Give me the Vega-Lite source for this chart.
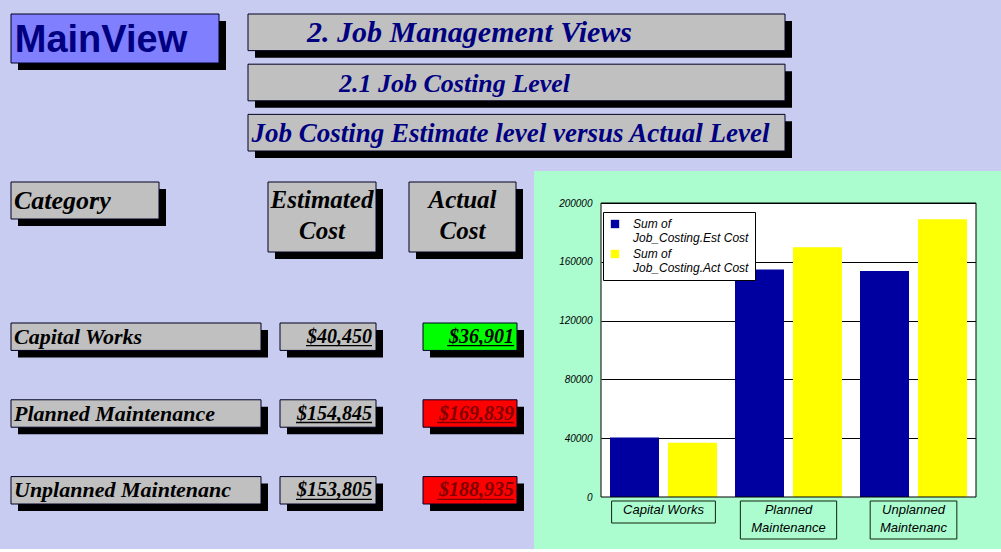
{
  "$schema": "https://vega.github.io/schema/vega-lite/v6.json",
  "background": "#c7ccf0",
  "padding": {"left": 10, "top": 13, "right": 0, "bottom": 0},
  "config": {"view": {"stroke": null}},
  "datasets": {
    "brand": [{"text": "MainView"}],
    "titles": [
      {"level": "t1", "text": "2. Job Management Views"},
      {"level": "t2", "text": "2.1 Job Costing Level"},
      {"level": "t3", "text": "Job Costing Estimate level  versus Actual Level"}
    ],
    "headers": [
      {"column": "Category", "text": "Category"},
      {"column": "Estimated", "text": "Estimated\nCost"},
      {"column": "Actual", "text": "Actual\nCost"}
    ],
    "costs": [
      {"category": "Capital Works", "estimated": 40450, "actual": 36901, "axisLabel": "Capital Works"},
      {"category": "Planned Maintenance", "estimated": 154845, "actual": 169839, "axisLabel": "Planned\nMaintenance"},
      {"category": "Unplanned Maintenanc", "estimated": 153805, "actual": 188935, "axisLabel": "Unplanned\nMaintenanc"}
    ],
    "bars": [
      {"category": "Capital Works", "series": "Sum of Job_Costing.Est Cost", "cost": 40450},
      {"category": "Capital Works", "series": "Sum of Job_Costing.Act Cost", "cost": 36901},
      {"category": "Planned Maintenance", "series": "Sum of Job_Costing.Est Cost", "cost": 154845},
      {"category": "Planned Maintenance", "series": "Sum of Job_Costing.Act Cost", "cost": 169839},
      {"category": "Unplanned Maintenanc", "series": "Sum of Job_Costing.Est Cost", "cost": 153805},
      {"category": "Unplanned Maintenanc", "series": "Sum of Job_Costing.Act Cost", "cost": 188935}
    ],
    "panel": [{"panel": "mint"}]
  },
  "resolve": {"legend": {"color": "independent"}},
  "spacing": 13,
  "vconcat": [
    {
      "spacing": 21,
      "hconcat": [
        {
          "width": 208, "height": 49,
          "data": {"name": "brand"},
          "encoding": {
            "x": {"field": "text", "type": "nominal", "axis": null, "scale": {"padding": 0}},
            "y": {"field": "text", "type": "nominal", "axis": null, "scale": {"padding": 0}}
          },
          "layer": [
            {"mark": {"type": "rect", "fill": "black", "xOffset": 7, "yOffset": 7}},
            {"mark": {"type": "rect", "fill": "#8080ff", "stroke": "#000022", "strokeWidth": 1}},
            {"mark": {"type": "text", "font": "Liberation Sans", "fontWeight": "bold", "fontSize": 38, "fill": "#000080", "dx": -14, "dy": 2},
             "encoding": {"text": {"field": "text", "type": "nominal"}}}
          ]
        },
        {
          "width": 537, "height": 137,
          "data": {"name": "titles"},
          "encoding": {
            "x": {"datum": "cell", "type": "nominal", "axis": null, "scale": {"padding": 0}},
            "y": {"field": "level", "type": "nominal", "sort": null, "axis": null, "scale": {"paddingInner": 0.27, "paddingOuter": 0}}
          },
          "layer": [
            {"mark": {"type": "rect", "fill": "black", "xOffset": 7, "yOffset": 7}},
            {"mark": {"type": "rect", "fill": "#c0c0c0", "stroke": "#000022", "strokeWidth": 1}},
            {"transform": [{"filter": "datum.level == 't1'"}],
             "mark": {"type": "text", "font": "Liberation Serif", "fontWeight": "bold", "fontStyle": "italic", "fontSize": 30, "fill": "#000080", "dx": -47, "dy": 1},
             "encoding": {"text": {"field": "text", "type": "nominal"}}},
            {"transform": [{"filter": "datum.level == 't2'"}],
             "mark": {"type": "text", "font": "Liberation Serif", "fontWeight": "bold", "fontStyle": "italic", "fontSize": 26, "fill": "#000080", "dx": -62, "dy": 1},
             "encoding": {"text": {"field": "text", "type": "nominal"}}},
            {"transform": [{"filter": "datum.level == 't3'"}],
             "mark": {"type": "text", "font": "Liberation Serif", "fontWeight": "bold", "fontStyle": "italic", "fontSize": 27, "fill": "#000080", "dx": -6, "dy": 1},
             "encoding": {"text": {"field": "text", "type": "nominal"}}}
          ]
        }
      ]
    },
    {
      "spacing": 10,
      "resolve": {"legend": {"color": "independent"}},
      "hconcat": [
        {
          "spacing": 63,
          "vconcat": [
            {
              "spacing": 101,
              "hconcat": [
                {
                  "width": 148, "height": 37,
                  "data": {"name": "headers"},
                  "transform": [{"filter": "datum.column == 'Category'"}],
                  "encoding": {
                    "x": {"field": "column", "type": "nominal", "axis": null, "scale": {"padding": 0}},
                    "y": {"field": "column", "type": "nominal", "axis": null, "scale": {"padding": 0}}
                  },
                  "layer": [
                    {"mark": {"type": "rect", "fill": "black", "xOffset": 7, "yOffset": 7}},
                    {"mark": {"type": "rect", "fill": "#c0c0c0", "stroke": "#000022", "strokeWidth": 1}},
                    {"mark": {"type": "text", "font": "Liberation Serif", "fontWeight": "bold", "fontStyle": "italic", "fontSize": 26, "fill": "black", "align": "left", "dx": -71, "dy": 0},
                     "encoding": {"text": {"field": "text", "type": "nominal"}}}
                  ]
                },
                {
                  "spacing": 25,
                  "hconcat": [
                    {
                      "width": 108, "height": 70,
                      "data": {"name": "headers"},
                      "transform": [{"filter": "datum.column == 'Estimated'"}],
                      "encoding": {
                        "x": {"field": "column", "type": "nominal", "axis": null, "scale": {"padding": 0}},
                        "y": {"field": "column", "type": "nominal", "axis": null, "scale": {"padding": 0}}
                      },
                      "layer": [
                        {"mark": {"type": "rect", "fill": "black", "xOffset": 7, "yOffset": 7}},
                        {"mark": {"type": "rect", "fill": "#c0c0c0", "stroke": "#000022", "strokeWidth": 1}},
                        {"mark": {"type": "text", "font": "Liberation Serif", "fontWeight": "bold", "fontStyle": "italic", "fontSize": 25, "fill": "black", "lineBreak": "\n", "lineHeight": 31, "dy": -17},
                         "encoding": {"text": {"field": "text", "type": "nominal"}}}
                      ]
                    },
                    {
                      "width": 107, "height": 70,
                      "data": {"name": "headers"},
                      "transform": [{"filter": "datum.column == 'Actual'"}],
                      "encoding": {
                        "x": {"field": "column", "type": "nominal", "axis": null, "scale": {"padding": 0}},
                        "y": {"field": "column", "type": "nominal", "axis": null, "scale": {"padding": 0}}
                      },
                      "layer": [
                        {"mark": {"type": "rect", "fill": "black", "xOffset": 7, "yOffset": 7}},
                        {"mark": {"type": "rect", "fill": "#c0c0c0", "stroke": "#000022", "strokeWidth": 1}},
                        {"mark": {"type": "text", "font": "Liberation Serif", "fontWeight": "bold", "fontStyle": "italic", "fontSize": 25, "fill": "black", "lineBreak": "\n", "lineHeight": 31, "dy": -17},
                         "encoding": {"text": {"field": "text", "type": "nominal"}}}
                      ]
                    }
                  ]
                }
              ]
            },
            {
              "spacing": 39,
              "hconcat": [
                {
                  "spacing": 11,
                  "hconcat": [
                    {
                      "width": 250, "height": 181,
                      "data": {"name": "costs"},
                      "encoding": {
                        "x": {"datum": "cell", "type": "nominal", "axis": null, "scale": {"padding": 0}},
                        "y": {"field": "category", "type": "nominal", "sort": null, "axis": null, "scale": {"paddingInner": 0.643, "paddingOuter": 0}}
                      },
                      "layer": [
                        {"mark": {"type": "rect", "fill": "black", "xOffset": 7, "yOffset": 7}},
                        {"mark": {"type": "rect", "fill": "#c0c0c0", "stroke": "#000022", "strokeWidth": 1}},
                        {"mark": {"type": "text", "font": "Liberation Serif", "fontWeight": "bold", "fontStyle": "italic", "fontSize": 22, "fill": "black", "align": "left", "dx": -122},
                         "encoding": {"text": {"field": "category", "type": "nominal"}}}
                      ]
                    },
                    {
                      "width": 96, "height": 181,
                      "data": {"name": "costs"},
                      "encoding": {
                        "x": {"datum": "cell", "type": "nominal", "axis": null, "scale": {"padding": 0}},
                        "y": {"field": "category", "type": "nominal", "sort": null, "axis": null, "scale": {"paddingInner": 0.643, "paddingOuter": 0}}
                      },
                      "layer": [
                        {"mark": {"type": "rect", "fill": "black", "xOffset": 7, "yOffset": 7}},
                        {"mark": {"type": "rect", "fill": "#c0c0c0", "stroke": "#000022", "strokeWidth": 1}},
                        {"mark": {"type": "text", "font": "Liberation Serif", "fontWeight": "bold", "fontStyle": "italic", "fontSize": 20, "fill": "black", "align": "right", "dx": 44},
                         "encoding": {"text": {"field": "estimated", "type": "quantitative", "format": "$,.0f"}}},
                        {"transform": [{"filter": "datum.estimated < 100000"}],
                         "mark": {"type": "rule", "stroke": "black", "strokeWidth": 1.3, "xOffset": -70, "x2Offset": -4, "yOffset": 9},
                         "encoding": {
                           "x": {"datum": "cell", "type": "nominal", "bandPosition": 1},
                           "x2": {"datum": "cell", "bandPosition": 1},
                           "y": {"field": "category", "type": "nominal", "sort": null, "bandPosition": 0.5}
                         }},
                        {"transform": [{"filter": "datum.estimated >= 100000"}],
                         "mark": {"type": "rule", "stroke": "black", "strokeWidth": 1.3, "xOffset": -80, "x2Offset": -4, "yOffset": 9},
                         "encoding": {
                           "x": {"datum": "cell", "type": "nominal", "bandPosition": 1},
                           "x2": {"datum": "cell", "bandPosition": 1},
                           "y": {"field": "category", "type": "nominal", "sort": null, "bandPosition": 0.5}
                         }}
                      ]
                    }
                  ]
                },
                {
                  "width": 94, "height": 181,
                  "data": {"name": "costs"},
                  "encoding": {
                    "x": {"datum": "cell", "type": "nominal", "axis": null, "scale": {"padding": 0}},
                    "y": {"field": "category", "type": "nominal", "sort": null, "axis": null, "scale": {"paddingInner": 0.643, "paddingOuter": 0}}
                  },
                  "layer": [
                    {"mark": {"type": "rect", "fill": "black", "xOffset": 7, "yOffset": 7}},
                    {"mark": {"type": "rect", "stroke": "#000022", "strokeWidth": 1},
                     "encoding": {"fill": {"condition": {"test": "datum.actual > datum.estimated", "value": "#ff0000"}, "value": "#00ff00"}}},
                    {"mark": {"type": "text", "font": "Liberation Serif", "fontWeight": "bold", "fontStyle": "italic", "fontSize": 20, "align": "right", "dx": 44},
                     "encoding": {
                       "text": {"field": "actual", "type": "quantitative", "format": "$,.0f"},
                       "fill": {"condition": {"test": "datum.actual > datum.estimated", "value": "#800000"}, "value": "#000000"}
                     }},
                    {"transform": [{"filter": "datum.actual < 100000"}],
                     "mark": {"type": "rule", "strokeWidth": 1.3, "xOffset": -70, "x2Offset": -3, "yOffset": 9},
                     "encoding": {
                       "x": {"datum": "cell", "type": "nominal", "bandPosition": 1},
                       "x2": {"datum": "cell", "bandPosition": 1},
                       "y": {"field": "category", "type": "nominal", "sort": null, "bandPosition": 0.5},
                       "stroke": {"condition": {"test": "datum.actual > datum.estimated", "value": "#800000"}, "value": "#000000"}
                     }},
                    {"transform": [{"filter": "datum.actual >= 100000"}],
                     "mark": {"type": "rule", "strokeWidth": 1.3, "xOffset": -80, "x2Offset": -3, "yOffset": 9},
                     "encoding": {
                       "x": {"datum": "cell", "type": "nominal", "bandPosition": 1},
                       "x2": {"datum": "cell", "bandPosition": 1},
                       "y": {"field": "category", "type": "nominal", "sort": null, "bandPosition": 0.5},
                       "stroke": {"condition": {"test": "datum.actual > datum.estimated", "value": "#800000"}, "value": "#000000"}
                     }}
                  ]
                }
              ]
            }
          ]
        },
        {
          "width": 375, "height": 315,
          "view": {"fill": "white", "stroke": null},
          "resolve": {"axis": {"y": "independent"}},
          "layer": [
            {"data": {"name": "panel"},
             "mark": {"type": "rect", "fill": "#abfdd0", "xOffset": -76, "x2Offset": 35, "y2Offset": -32},
             "encoding": {
               "x": {"datum": "Capital Works", "type": "nominal", "bandPosition": 0, "axis": null},
               "x2": {"datum": "Unplanned Maintenanc", "bandPosition": 1},
               "y": {"datum": 200000, "type": "quantitative", "axis": null},
               "y2": {"datum": 200000}
             }},
            {"data": {"name": "panel"},
             "mark": {"type": "rect", "fill": "#abfdd0", "xOffset": -76, "x2Offset": 35, "y2Offset": 52},
             "encoding": {
               "x": {"datum": "Capital Works", "type": "nominal", "bandPosition": 0, "axis": null},
               "x2": {"datum": "Unplanned Maintenanc", "bandPosition": 1},
               "y": {"datum": 0, "type": "quantitative", "axis": null},
               "y2": {"datum": 0}
             }},
            {"data": {"name": "panel"},
             "mark": {"type": "rect", "fill": "#abfdd0", "xOffset": -76, "x2Offset": -9, "yOffset": -32, "y2Offset": 52},
             "encoding": {
               "x": {"datum": "Capital Works", "type": "nominal", "bandPosition": 0, "axis": null},
               "x2": {"datum": "Capital Works", "bandPosition": 0},
               "y": {"datum": 200000, "type": "quantitative", "axis": null},
               "y2": {"datum": 0}
             }},
            {"data": {"name": "panel"},
             "mark": {"type": "rect", "fill": "#abfdd0", "xOffset": 9, "x2Offset": 35, "yOffset": -32, "y2Offset": 52},
             "encoding": {
               "x": {"datum": "Unplanned Maintenanc", "type": "nominal", "bandPosition": 1, "axis": null},
               "x2": {"datum": "Unplanned Maintenanc", "bandPosition": 1},
               "y": {"datum": 200000, "type": "quantitative", "axis": null},
               "y2": {"datum": 0}
             }},
            {
              "data": {"name": "bars"},
              "mark": {"type": "bar"},
              "encoding": {
                "x": {"field": "category", "type": "nominal", "axis": null,
                      "scale": {"domain": ["Capital Works", "Planned Maintenance", "Unplanned Maintenanc"], "paddingInner": 0.144, "paddingOuter": 0.072}},
                "xOffset": {"field": "series", "type": "nominal", "sort": null, "scale": {"paddingInner": 0.155, "paddingOuter": 0}},
                "y": {"field": "cost", "type": "quantitative",
                      "scale": {"domain": [0, 214286], "nice": false},
                      "axis": {"orient": "left", "values": [0, 40000, 80000, 120000, 160000, 200000], "grid": true, "gridColor": "black", "gridOpacity": 1, "gridWidth": 1, "labels": false, "ticks": false, "domain": false, "title": null, "zindex": 0}},
                "color": {"field": "series", "type": "nominal", "sort": null,
                          "scale": {"range": ["#0000a0", "#ffff00"]},
                          "legend": {"title": null, "orient": "none", "legendX": 2, "legendY": 30, "symbolType": "square", "symbolSize": 70, "symbolStrokeWidth": 0,
                                     "labelFont": "Liberation Sans", "labelFontSize": 12, "labelFontStyle": "italic", "labelColor": "black",
                                     "labelExpr": "['Sum  of', substring(datum.label, 7)]", "labelLimit": 250, "labelOffset": 12,
                                     "strokeColor": "black", "fillColor": "white", "padding": 6, "rowPadding": 4}}
              }
            },
            {"data": {"name": "panel"},
             "mark": {"type": "rect", "fill": "transparent", "stroke": "black", "strokeWidth": 1, "xOffset": -9, "x2Offset": 9},
             "encoding": {
               "x": {"datum": "Capital Works", "type": "nominal", "bandPosition": 0, "axis": null},
               "x2": {"datum": "Unplanned Maintenanc", "bandPosition": 1},
               "y": {"datum": 0, "type": "quantitative", "axis": null},
               "y2": {"datum": 200000}
             }},
            {
              "data": {"name": "costs"},
              "transform": [{"filter": "datum.category == 'Capital Works'"}],
              "mark": {"type": "rect", "fill": "transparent", "stroke": "#112211", "strokeWidth": 1, "width": {"band": 0.97}, "yOffset": 4, "y2Offset": 26},
              "encoding": {
                "x": {"field": "category", "type": "nominal", "axis": null},
                "y": {"datum": 0, "type": "quantitative", "axis": null},
                "y2": {"datum": 0}
              }
            },
            {
              "data": {"name": "costs"},
              "transform": [{"filter": "datum.category == 'Planned Maintenance'"}],
              "mark": {"type": "rect", "fill": "transparent", "stroke": "#112211", "strokeWidth": 1, "width": {"band": 0.9}, "yOffset": 4, "y2Offset": 42},
              "encoding": {
                "x": {"field": "category", "type": "nominal", "axis": null},
                "y": {"datum": 0, "type": "quantitative", "axis": null},
                "y2": {"datum": 0}
              }
            },
            {
              "data": {"name": "costs"},
              "transform": [{"filter": "datum.category == 'Unplanned Maintenanc'"}],
              "mark": {"type": "rect", "fill": "transparent", "stroke": "#112211", "strokeWidth": 1, "width": {"band": 0.81}, "yOffset": 4, "y2Offset": 42},
              "encoding": {
                "x": {"field": "category", "type": "nominal", "axis": null},
                "y": {"datum": 0, "type": "quantitative", "axis": null},
                "y2": {"datum": 0}
              }
            },
            {
              "data": {"name": "costs"},
              "mark": {"type": "text", "font": "Liberation Sans", "fontStyle": "italic", "fontSize": 13, "fill": "black", "baseline": "top", "dy": 7, "lineBreak": "\n", "lineHeight": 18},
              "encoding": {
                "x": {"field": "category", "type": "nominal", "axis": null},
                "y": {"datum": 0, "type": "quantitative",
                      "axis": {"orient": "left", "values": [0, 40000, 80000, 120000, 160000, 200000], "format": "d", "grid": false, "ticks": false, "domain": false, "title": null,
                               "labelFont": "Liberation Sans", "labelFontStyle": "italic", "labelFontSize": 10, "labelColor": "black", "labelPadding": 9, "labelFlush": false, "zindex": 1}},
                "text": {"field": "axisLabel", "type": "nominal"}
              }
            }
          ]
        }
      ]
    }
  ]
}
